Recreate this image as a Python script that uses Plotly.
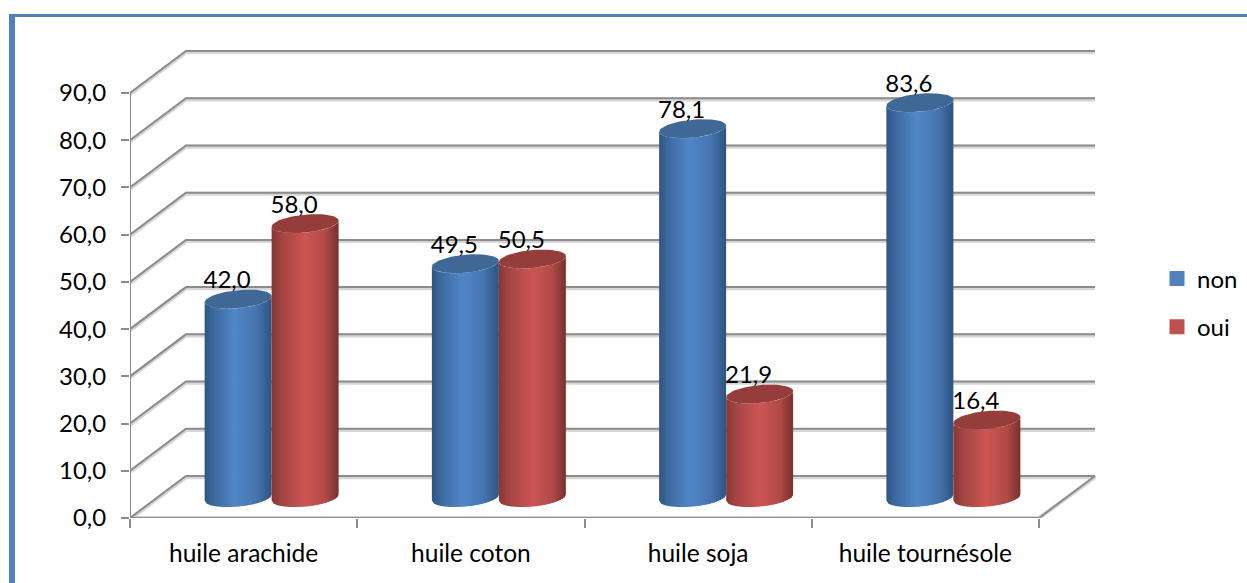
import numpy as np
import plotly.graph_objects as go

# Chart data
categories = ["huile arachide", "huile coton", "huile soja", "huile tournésole"]
non_values = [42.0, 49.5, 78.1, 83.6]
oui_values = [58.0, 50.5, 21.9, 16.4]
y_ticks = [0, 10, 20, 30, 40, 50, 60, 70, 80, 90]

# Plot frame, in pixels: the front face spans LEFT..FRONT_RIGHT and TOP_90..BOTTOM,
# while the axes reach far enough to hold the receding back wall as well
WIDTH, HEIGHT = 1247, 583
LEFT, FRONT_RIGHT, BACK_RIGHT = 130, 1039, 1096
TOP_90, BACK_TOP, BOTTOM = 93, 49, 518
PX_X = (FRONT_RIGHT - LEFT) / 4     # pixels per category
PX_Y = (BOTTOM - TOP_90) / 90       # pixels per value unit
X_MAX = (BACK_RIGHT - LEFT) / PX_X
Y_MAX = (BOTTOM - BACK_TOP) / PX_Y

# Oblique depth of the chart box, converted to data units
DEPTH_X = 56 / PX_X
DEPTH_Y = 42 / PX_Y

# Cylinder shape, in data units
BAR_W = 67 / PX_X
ELL_B = 9 / PX_Y
ELL_TILT = 3 / PX_Y
MID_X = DEPTH_X * 0.5
MID_Y = 20.5 / PX_Y

FONT = "Lato"
TEXT_SIZE = 24
AXIS_GREY = "#8c8c8c"

BLUE_STOPS = [(0, "#2f5681"), (0.12, "#3b689c"), (0.45, "#5187c8"), (0.78, "#4574ae"), (1, "#2e5480")]
RED_STOPS = [(0, "#853836"), (0.14, "#a24543"), (0.5, "#cc5553"), (0.8, "#b04a47"), (1, "#783130")]
BLUE_TOP = "#3f6897"
RED_TOP = "#943d3b"
BLUE_KEY = "#4f81bd"
RED_KEY = "#c0504d"


def hex_rgb(c):
    return np.array([int(c[i:i + 2], 16) for i in (1, 3, 5)], dtype=float)


def shade(stops, f):
    pos = [s[0] for s in stops]
    rgb = np.array([hex_rgb(s[1]) for s in stops])
    vals = [np.interp(f, pos, rgb[:, k]) for k in range(3)]
    return "rgb({:.0f},{:.0f},{:.0f})".format(*vals)


def ellipse_y(x, cx, cy, lower=True):
    """Height of the tilted rim ellipse at horizontal position x."""
    u = np.clip((x - cx) / (BAR_W / 2), -1, 1)
    s = np.sqrt(1 - u ** 2)
    return cy + ELL_TILT * u + (-ELL_B * s if lower else ELL_B * s)


fig = go.Figure()

# Wall and floor grid lines behind the cylinders
for soft, colour, w in ((True, "#d6d6d6", 4), (False, AXIS_GREY, 2)):
    for v in y_ticks:
        off = -0.25 if soft else 0
        xs = [0, DEPTH_X, 4 + DEPTH_X]
        ys = [v + off, v + DEPTH_Y + off, v + DEPTH_Y + off]
        if v == 0:
            xs = xs + [4, 0]
            ys = ys + [0, 0]
        fig.add_trace(go.Scatter(x=xs, y=ys, mode="lines", line=dict(color=colour, width=w),
                                 cliponaxis=False, showlegend=False, hoverinfo="skip"))

# Axis lines stop at the front face, short of the axis ranges
for xs, ys in (([0, 0], [0, 90]), ([0, 4], [0, 0])):
    fig.add_trace(go.Scatter(x=xs, y=ys, mode="lines", line=dict(color=AXIS_GREY, width=2),
                             cliponaxis=False, showlegend=False, hoverinfo="skip"))


def add_cylinder(cat_index, side, value, stops, top_colour):
    cx = cat_index + 0.5 + MID_X + side * BAR_W / 2
    base = MID_Y
    top = value + MID_Y
    edges = np.linspace(cx - BAR_W / 2, cx + BAR_W / 2, 34)
    for i in range(len(edges) - 1):
        # Each strip runs a little under the next one so no seams show
        x0, x1 = edges[i], min(edges[i + 1] + 0.004, edges[-1])
        xs = np.linspace(x0, x1, 4)
        low = ellipse_y(xs, cx, base)
        high = ellipse_y(xs, cx, top)
        f = (i + 0.5) / (len(edges) - 1)
        fig.add_trace(go.Scatter(
            x=np.r_[xs, xs[::-1]], y=np.r_[low, high[::-1]],
            mode="lines", fill="toself", fillcolor=shade(stops, f), line=dict(width=0),
            cliponaxis=False, showlegend=False, hoverinfo="skip"))
    # Top face
    t = np.linspace(0, 2 * np.pi, 73)
    fig.add_trace(go.Scatter(
        x=cx + BAR_W / 2 * np.cos(t),
        y=top + ELL_B * np.sin(t) + ELL_TILT * np.cos(t),
        mode="lines", fill="toself", fillcolor=top_colour, line=dict(width=0),
        cliponaxis=False, showlegend=False, hoverinfo="skip"))


for i in range(len(categories)):
    add_cylinder(i, -1, non_values[i], BLUE_STOPS, BLUE_TOP)
    add_cylinder(i, 1, oui_values[i], RED_STOPS, RED_TOP)

# Value labels above each cylinder
label_x, label_y, label_text = [], [], []
for i in range(len(categories)):
    for side, value in ((-1, non_values[i]), (1, oui_values[i])):
        label_x.append(i + 0.5 + MID_X + side * BAR_W / 2 - 11 / PX_X)
        label_y.append(value + MID_Y + 17 / PX_Y)
        label_text.append(f"{value:.1f}".replace(".", ","))
fig.add_trace(go.Scatter(x=label_x, y=label_y, text=label_text, mode="text",
                         textposition="middle center",
                         textfont=dict(family=FONT, size=TEXT_SIZE, color="black"),
                         cliponaxis=False, showlegend=False, hoverinfo="skip"))

# Legend keys
for name, colour in (("non", BLUE_KEY), ("oui", RED_KEY)):
    fig.add_trace(go.Scatter(x=[None], y=[None], name=name, mode="markers", legendgroup=name,
                             marker=dict(symbol="square", size=15, color=colour)))


def px_x(p):
    return (p - LEFT) / (BACK_RIGHT - LEFT)


def px_y(p):
    return (BOTTOM - p) / (BOTTOM - BACK_TOP)


# Blue page border along the top and left edges
border = "#4f81bd"
shapes = [
    dict(type="rect", xref="paper", yref="paper", x0=px_x(9), x1=px_x(WIDTH), y0=px_y(17), y1=px_y(14),
         fillcolor=border, line=dict(width=0), layer="below"),
    dict(type="rect", xref="paper", yref="paper", x0=px_x(9), x1=px_x(15), y0=px_y(HEIGHT), y1=px_y(14),
         fillcolor=border, line=dict(width=0), layer="below"),
]

fig.update_layout(
    width=WIDTH, height=HEIGHT, autosize=False,
    margin=dict(l=LEFT, r=WIDTH - BACK_RIGHT, t=BACK_TOP, b=HEIGHT - BOTTOM, pad=0, autoexpand=False),
    paper_bgcolor="white", plot_bgcolor="white",
    separators=", ",
    font=dict(family=FONT, size=TEXT_SIZE, color="black"),
    shapes=shapes,
    showlegend=True,
    legend=dict(x=px_x(1157), y=px_y(256.5), xanchor="left", yanchor="top",
                tracegroupgap=14, bgcolor="rgba(0,0,0,0)", itemclick=False,
                font=dict(family=FONT, size=TEXT_SIZE, color="black")),
    xaxis=dict(range=[0, X_MAX], tickvals=[0.5, 1.5, 2.5, 3.5], ticktext=categories,
               ticks="", showgrid=False, zeroline=False, showline=False, tickfont=dict(size=24.5),
               ticklabelstandoff=18,
               minor=dict(ticks="outside", tick0=0, dtick=1, ticklen=9, tickwidth=2,
                          tickcolor=AXIS_GREY, showgrid=False)),
    yaxis=dict(range=[0, Y_MAX], tickvals=y_ticks, tickformat=".1f", ticks="outside",
               ticklen=8, tickwidth=2, tickcolor=AXIS_GREY, showgrid=False, zeroline=False,
               showline=False, ticklabelstandoff=10),
)

fig.write_html("out.html", config={"displayModeBar": False})
